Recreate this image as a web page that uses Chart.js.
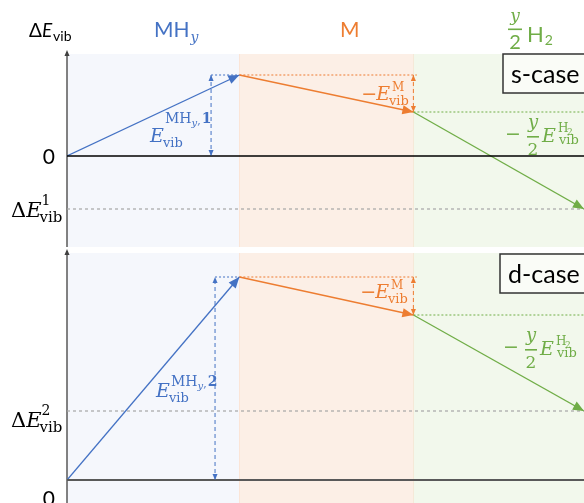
<!DOCTYPE html>
<html>
<head>
<meta charset="utf-8">
<script src="https://cdn.jsdelivr.net/npm/chart.js@4"></script>
<style>
  body { margin: 0; background: #fff; }
  #wrap { position: relative; width: 584px; height: 503px; overflow: hidden; }
  canvas { position: absolute; left: 0; }
</style>
</head>
<body>
<div id="wrap">
  <canvas id="sCase" width="584" height="247" style="top:0"></canvas>
  <canvas id="dCase" width="584" height="256" style="top:247px"></canvas>
</div>
<script>
// stage boundaries on the x axis: MH_y | M | y/2 H2
const stageEdges = [0, 1, 2.01, 3];
const stageColors = ['#4472C4', '#ED7D31', '#70AD47'];
const stageShades = ['#F5F7FC', '#FCEFE6', '#F2F8EC'];
const caseNames = ['s-case', 'd-case'];

// energy level at each stage edge (start, after MH_y, after M, after H2)
const sCaseLevels = [0, 8.1, 4.4, -5.3];
const dCaseLevels = [0, 20.3, 16.5, 6.9];
// where the E_vib(MH_y) double arrow stands
const guideX = [0.836, 0.859];

const SERIF = '"DejaVu Serif", serif';
const SANS = 'Lato, "Open Sans", sans-serif';

// text drawing per canvas (kept out of chart options so it is not treated as scriptable)
const labelDrawers = {};

function put(ctx, s, x, y, font, color, align) {
    ctx.font = font;
    ctx.fillStyle = color;
    ctx.textAlign = align || 'left';
    ctx.textBaseline = 'alphabetic';
    ctx.fillText(s, x, y);
    return ctx.measureText(s).width;
}

function drawHead(ctx, x0, y0, x1, y1, len, color) {
    const a = Math.atan2(y1 - y0, x1 - x0);
    const w = len * 0.42;
    ctx.save();
    ctx.fillStyle = color;
    ctx.beginPath();
    ctx.moveTo(x1, y1);
    ctx.lineTo(x1 - len * Math.cos(a) + w * Math.sin(a), y1 - len * Math.sin(a) - w * Math.cos(a));
    ctx.lineTo(x1 - len * Math.cos(a) - w * Math.sin(a), y1 - len * Math.sin(a) + w * Math.cos(a));
    ctx.closePath();
    ctx.fill();
    ctx.restore();
}

// background shading + y axis
const backdrop = {
    id: 'backdrop',
    beforeDatasetsDraw(chart) {
        const ctx = chart.ctx, xs = chart.scales.x, area = chart.chartArea;
        ctx.save();
        for (let i = 0; i < 3; i++) {
            const x0 = xs.getPixelForValue(stageEdges[i]);
            const x1 = xs.getPixelForValue(stageEdges[i + 1]);
            ctx.fillStyle = stageShades[i];
            ctx.fillRect(x0, area.top, x1 - x0, area.bottom - area.top);
        }
        ctx.strokeStyle = 'rgba(237,125,49,0.12)';
        ctx.lineWidth = 1;
        for (let i = 1; i < 3; i++) {
            const x = Math.round(xs.getPixelForValue(stageEdges[i])) + 0.5;
            ctx.beginPath();
            ctx.moveTo(x, area.top);
            ctx.lineTo(x, area.bottom);
            ctx.stroke();
        }
        // y axis with arrow
        const ax = xs.getPixelForValue(0);
        ctx.strokeStyle = '#595959';
        ctx.lineWidth = 1.5;
        ctx.beginPath();
        ctx.moveTo(ax, chart.height);
        ctx.lineTo(ax, area.top - 2);
        ctx.stroke();
        drawHead(ctx, ax, area.top + 10, ax, area.top - 4, 6, '#404040');
        ctx.restore();
    }
};

const arrowHeads = {
    id: 'arrowHeads',
    afterDatasetsDraw(chart) {
        chart.data.datasets.forEach((ds, i) => {
            if (!ds.arrow) return;
            const pts = chart.getDatasetMeta(i).data;
            const a = pts[0], b = pts[pts.length - 1];
            drawHead(chart.ctx, a.x, a.y, b.x, b.y, ds.headSize, ds.borderColor);
            if (ds.arrow === 'both') drawHead(chart.ctx, b.x, b.y, a.x, a.y, ds.headSize, ds.borderColor);
        });
    }
};

const texts = {
    id: 'texts',
    afterDraw(chart) {
        const draw = labelDrawers[chart.canvas.id];
        if (!draw) return;
        chart.ctx.save();
        draw(chart.ctx, chart);
        chart.ctx.restore();
    }
};

function caseBox(ctx, x, y, w, h, label) {
    ctx.fillStyle = '#FAFCF7';
    ctx.fillRect(x, y, w, h);
    ctx.strokeStyle = '#333';
    ctx.lineWidth = 1.5;
    ctx.strokeRect(x, y, w, h);
    put(ctx, label, x + 8, y + 29, '25px ' + SANS, '#000');
}

// - E_vib^M label
function labelM(ctx, xr, base) {
    const c = stageColors[1];
    ctx.font = 'italic 19px ' + SERIF;
    const wE = ctx.measureText('E').width;
    put(ctx, '\u2212', xr - 18 - wE - 15, base, '19px ' + SERIF, c);
    put(ctx, 'E', xr - 18 - wE, base, 'italic 19px ' + SERIF, c);
    put(ctx, 'M', xr - 16, base - 9, '12px ' + SERIF, c);
    put(ctx, 'vib', xr - 19, base + 5, '13px ' + SERIF, c);
}

// - y/2 E_vib^H2 label
function labelH(ctx, x, base) {
    const c = stageColors[2];
    put(ctx, '\u2212', x, base - 2, '19px ' + SERIF, c);
    put(ctx, 'y', x + 28, base - 14, 'italic 18px ' + SERIF, c, 'center');
    ctx.fillStyle = c;
    ctx.fillRect(x + 22, base - 6, 12, 1.6);
    put(ctx, '2', x + 28, base + 13, '17px ' + SERIF, c, 'center');
    put(ctx, 'E', x + 37, base, 'italic 19px ' + SERIF, c);
    put(ctx, 'H', x + 53, base - 10, '12px ' + SERIF, c);
    put(ctx, '2', x + 62, base - 7, '9px ' + SERIF, c);
    put(ctx, 'vib', x + 54, base + 2, '13px ' + SERIF, c);
}

// E_vib^{MH_y,n} label, sup = how far the superscript baseline sits above E's
function labelMH(ctx, x, base, n, sup) {
    const c = stageColors[0];
    put(ctx, 'E', x, base, 'italic 19px ' + SERIF, c);
    let cx = x + 15;
    cx += put(ctx, 'MH', cx, base - sup, '14px ' + SERIF, c);
    cx += put(ctx, 'y', cx, base - sup + 3, 'italic 10px ' + SERIF, c);
    cx += put(ctx, ',', cx, base - sup + 1, '11px ' + SERIF, c);
    put(ctx, n, cx + 1, base - sup, 'bold 14px ' + SERIF, c);
    put(ctx, 'vib', x + 13, base + 5, '13px ' + SERIF, c);
}

// Delta E_vib^n level label
function labelLevel(ctx, x, base, n) {
    let w = put(ctx, '\u0394', x, base, '21px ' + SERIF, '#000');
    w += put(ctx, 'E', x + w, base, 'italic 21px ' + SERIF, '#000');
    put(ctx, n, x + w, base - 12, '14px ' + SERIF, '#000');
    put(ctx, 'vib', x + w - 2, base + 5, '15px ' + SERIF, '#000');
}

function makeDatasets(L, gx) {
    const e = stageEdges;
    const seg = (x0, y0, x1, y1, color, extra) => Object.assign({
        data: [{ x: x0, y: y0 }, { x: x1, y: y1 }],
        showLine: true, pointRadius: 0, borderColor: color, borderWidth: 1.3
    }, extra);
    return [
        seg(e[0], L[0], e[3], L[0], '#000', { borderWidth: 1.5 }),
        seg(e[0], L[3], e[3], L[3], '#A6A6A6', { borderDash: [3, 3], borderWidth: 1.2 }),
        seg(gx, L[1], e[1], L[1], stageColors[0], { borderDash: [2, 2], borderWidth: 1 }),
        seg(e[1], L[1], e[2] + 0.02, L[1], stageColors[1], { borderDash: [2, 2], borderWidth: 1 }),
        seg(e[2], L[2], e[3], L[2], stageColors[2], { borderDash: [2, 2], borderWidth: 1 }),
        seg(gx, L[0], gx, L[1], stageColors[0], { borderDash: [4, 3], borderWidth: 1, arrow: 'both', headSize: 6 }),
        seg(e[2], L[1], e[2], L[2], stageColors[1], { borderDash: [4, 3], borderWidth: 1, arrow: 'both', headSize: 6 }),
        seg(e[0], L[0], e[1], L[1], stageColors[0], { arrow: 'end', headSize: 11 }),
        seg(e[1], L[1], e[2], L[2], stageColors[1], { arrow: 'end', headSize: 11 }),
        seg(e[2], L[2], e[3], L[3], stageColors[2], { arrow: 'end', headSize: 11 })
    ];
}

function makeChart(id, levels, gx, yMin, yMax, padTop, zeroColor, zeroWidth, draw) {
    const datasets = makeDatasets(levels, gx);
    datasets[0].borderColor = zeroColor;
    datasets[0].borderWidth = zeroWidth;
    labelDrawers[id] = draw;
    return new Chart(document.getElementById(id).getContext('2d'), {
        type: 'scatter',
        data: { datasets: datasets },
        options: {
            responsive: false,
            animation: false,
            layout: { padding: { left: 67, top: padTop, right: 0, bottom: 0 } },
            scales: {
                x: { type: 'linear', min: 0, max: 3, display: false },
                y: { type: 'linear', min: yMin, max: yMax, display: false }
            },
            plugins: {
                legend: { display: false },
                tooltip: { enabled: false }
            }
        },
        plugins: [backdrop, arrowHeads, texts]
    });
}

// top panel
makeChart('sCase', sCaseLevels, guideX[0], -9.1, 10.2, 54, '#000', 1.5, (ctx) => {
    let w = put(ctx, '\u0394', 29, 37, '19px ' + SANS, '#000');
    w += put(ctx, 'E', 29 + w, 37, 'italic 19px ' + SANS, '#000');
    put(ctx, 'vib', 30 + w, 41, '14px ' + SANS, '#000');

    w = put(ctx, 'MH', 154, 37, '21px ' + SANS, stageColors[0]);
    put(ctx, 'y', 155 + w, 42, 'italic 14px ' + SERIF, stageColors[0]);
    put(ctx, 'M', 340, 37, '21px ' + SANS, stageColors[1]);
    put(ctx, 'y', 515, 21, 'italic 17px ' + SERIF, stageColors[2], 'center');
    ctx.fillStyle = stageColors[2];
    ctx.fillRect(508, 28.5, 14, 1.6);
    put(ctx, '2', 515, 49, '20px ' + SANS, stageColors[2], 'center');
    w = put(ctx, 'H', 527, 42, '22px ' + SANS, stageColors[2]);
    put(ctx, '2', 527 + w + 1, 45, '14px ' + SANS, stageColors[2]);

    put(ctx, '0', 55, 164, '21px ' + SANS, '#000', 'right');
    labelLevel(ctx, 11, 217, '1');
    labelMH(ctx, 150, 142, '1', 19);
    labelM(ctx, 408, 100);
    labelH(ctx, 505, 142);
    caseBox(ctx, 503, 54, 90, 39, caseNames[0]);
});

// bottom panel
makeChart('dCase', dCaseLevels, guideX[1], -2.3, 22.7, 6, '#595959', 2, (ctx) => {
    put(ctx, '0', 55, 259, '21px ' + SANS, '#000', 'right');
    labelLevel(ctx, 11, 180, '2');
    labelMH(ctx, 156, 150, '2', 11);
    labelM(ctx, 407, 51);
    labelH(ctx, 503, 108);
    caseBox(ctx, 500, 7, 95, 39, caseNames[1]);
});
</script>
</body>
</html>
